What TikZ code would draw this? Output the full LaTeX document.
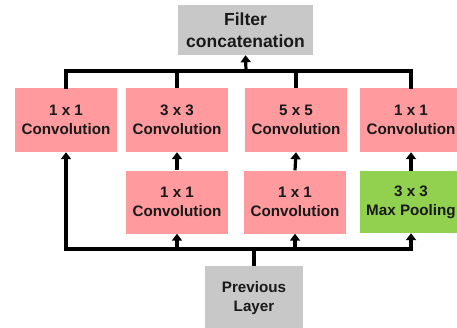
\documentclass[tikz,border=0pt]{standalone}
\usepackage{fontspec}
\setmainfont{Liberation Sans}
\usetikzlibrary{arrows.meta}
\definecolor{pinkbox}{HTML}{FF9A9E}
\definecolor{greenbox}{HTML}{92D050}
\definecolor{graybox}{HTML}{C8C8C8}
\begin{document}
\begin{tikzpicture}[x=1pt,y=-1pt,
  box/.style={inner sep=0pt, minimum width=102pt, minimum height=64pt, align=center,
    font=\fontsize{15.2}{19}\selectfont\bfseries, text=black!90},
  conv/.style={box, fill=pinkbox},
  pool/.style={box, fill=greenbox, minimum height=62pt},
  grey/.style={box, fill=graybox},
  wire/.style={line width=3.2pt, black},
  arr/.style={wire, -{Triangle[width=10pt,length=7pt]}}]
\useasboundingbox (0,0) rectangle (457,327);
\node[grey, minimum width=135pt, minimum height=50pt, font=\fontsize{17.5}{22}\selectfont\bfseries] (filter) at (245.5,30) {Filter\\concatenation};
\node[conv] (t1) at (66,120) {1 x 1\\Convolution};
\node[conv] (t2) at (177,120) {3 x 3\\Convolution};
\node[conv] (t3) at (296,120) {5 x 5\\Convolution};
\node[conv] (t4) at (411,120) {1 x 1\\Convolution};
\node[conv, minimum height=63pt] (m2) at (177,202) {1 x 1\\Convolution};
\node[conv, minimum height=63pt] (m3) at (295,202) {1 x 1\\Convolution};
\node[pool] (m4) at (411,202) {3 x 3\\Max Pooling};
\node[grey, minimum width=98pt, minimum height=64pt] (prev) at (254,298) {Previous\\Layer};
\coordinate (tb1) at (66,71);
\coordinate (tb4) at (411,71);
\coordinate (tbm) at (246,71);
\coordinate (bb1) at (66,249);
\coordinate (bb4) at (411,249);
\coordinate (bbm) at (254,249);
% top bus
\draw[wire, line cap=rect] (t1.north) -- (tb1) -- (tb4) -- (t4.north);
\draw[wire] (t2.north) -- (t2.north |- tb1);
\draw[wire] (t3.north) -- (t3.north |- tb1);
\draw[arr] (tbm) -- (filter.south);
% middle arrows
\draw[arr] (m2.north) -- (t2.south);
\draw[arr] (m3.north) -- (t3.south);
\draw[arr] (m4.north) -- (t4.south);
% bottom bus
\draw[wire] (prev.north) -- (bbm);
\draw[wire, line cap=rect] (bb1) -- (bb4);
\draw[arr] (bb1) -- (t1.south);
\draw[arr] (m2.south |- bb1) -- (m2.south);
\draw[arr] (m3.south |- bb1) -- (m3.south);
\draw[arr] (bb4) -- (m4.south);
\end{tikzpicture}
\end{document}
